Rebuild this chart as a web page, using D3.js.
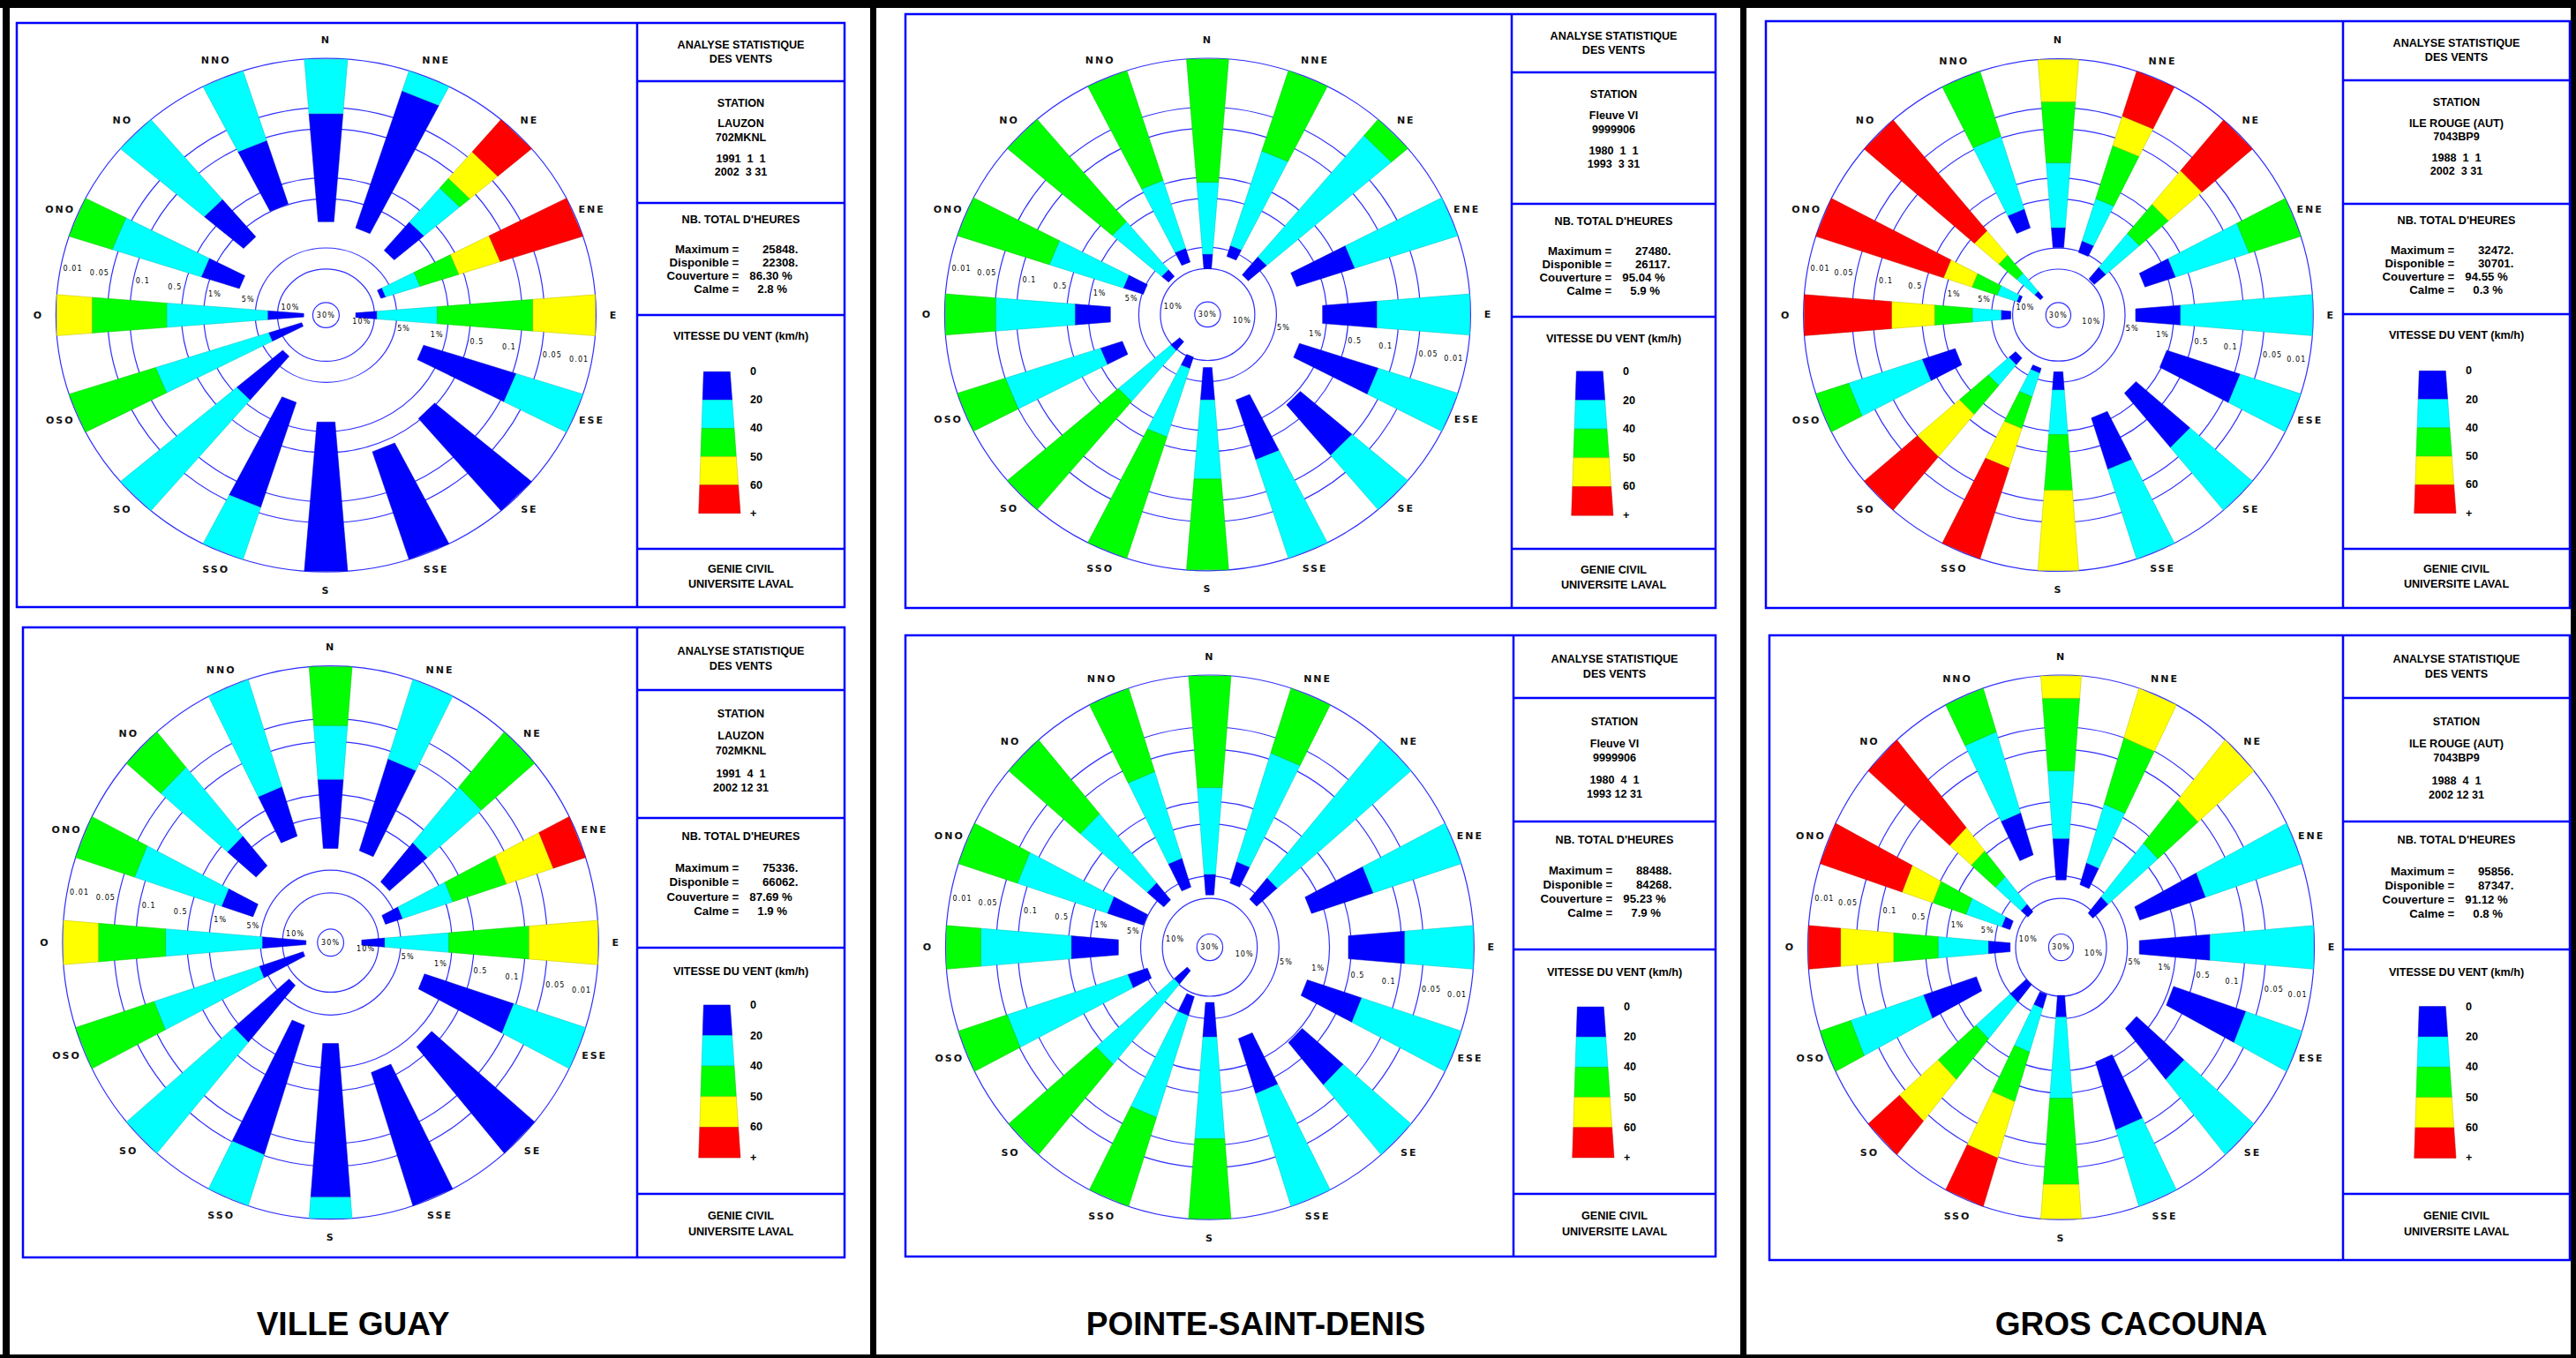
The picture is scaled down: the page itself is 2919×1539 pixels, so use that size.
<!DOCTYPE html>
<html>
<head>
<meta charset="utf-8">
<script src="https://cdn.jsdelivr.net/npm/d3@7"></script>
<style>
  html, body { margin: 0; padding: 0; background: #fff; }
  svg { display: block; }
</style>
</head>
<body>
<svg id="chart" width="2919" height="1539"></svg>
<script>
// ---------------------------------------------------------------
// Wind roses: cumulative frequency (% of hours) of wind speed
// exceeding 0, 20, 40, 50 and 60 km/h, for 16 compass sectors.
// Each sector lists the exceedance values that are present; the
// last class runs out to the 0.01 % ring.
// ---------------------------------------------------------------
const directions = ["N","NNE","NE","ENE","E","ESE","SE","SSE","S","SSO","SO","OSO","O","ONO","NO","NNO"];
const ringValues = [30, 10, 5, 1, 0.5, 0.1, 0.05, 0.01];
const ringLabels = ["30%", "10%", "5%", "1%", "0.5", "0.1", "0.05", "0.01"];
const speedColors = ["#0000ff", "#00ffff", "#00ff00", "#ffff00", "#ff0000"];
const speedLabels = ["0", "20", "40", "50", "60", "+"];

const lauzonJanMar = [
  [2.1, 0.06], [2.24, 0.02], [2.77, 0.82, 0.19, 0.125, 0.04], [7.5, 6.4, 2.07, 0.58, 0.15],
  [17.9, 9.2, 1.40, 0.07], [1.85, 0.089], [0.53], [0.41],
  [1.35], [2.24, 0.06], [7.7, 1.17], [20.4, 6.9, 0.17],
  [22.6, 7.3, 0.31, 0.03], [2.65, 0.76, 0.041], [1.55, 0.31], [0.98, 0.11]
];
const fleuveJanMar = [
  [10.0, 6.2, 0.58], [6.1, 4.2, 0.16], [8.2, 3.77, 0.02], [2.27, 0.32],
  [1.13, 0.196], [2.06, 0.145], [0.92, 0.104], [2.37, 0.30],
  [7.9, 2.71, 0.20], [10.4, 7.0, 0.66], [14.0, 9.6, 1.06], [2.57, 1.23, 0.05],
  [2.0, 0.64, 0.05], [5.2, 2.66, 0.22], [8.8, 6.55, 0.82], [7.4, 4.6, 0.44]
];
const ileRougeJanMar = [
  [4.9, 2.54, 0.30, 0.04], [5.2, 3.5, 0.81, 0.13, 0.047], [9.5, 5.74, 1.34, 0.38, 0.089], [2.24, 0.77, 0.06],
  [3.5, 0.79], [1.05, 0.082], [1.56, 0.149], [1.30, 0.22],
  [7.0, 3.85, 0.88, 0.14], [7.2, 6.1, 2.7, 0.9, 0.23], [7.1, 5.3, 2.17, 0.62, 0.10], [1.26, 0.40, 0.031],
  [9.4, 6.8, 2.62, 0.75, 0.18], [11.9, 10.7, 5.4, 2.26, 0.84], [20.9, 16.2, 7.4, 3.4, 1.19], [2.23, 1.16, 0.094]
];
const lauzonAprDec = [
  [2.56, 0.31, 0.06], [2.4, 0.127], [4.0, 0.84, 0.09], [7.4, 4.2, 0.80, 0.136, 0.029],
  [17.0, 8.2, 1.09, 0.087], [2.04, 0.107], [0.70], [0.71],
  [2.08, 0.019], [3.2, 0.051], [8.2, 0.84], [18.3, 4.3, 0.133],
  [20.9, 5.25, 0.25, 0.03], [3.5, 1.24, 0.07], [2.1, 0.64, 0.041], [1.5, 0.31]
];
const fleuveAprDec = [
  [8.9, 4.7, 0.32], [5.6, 2.8, 0.082], [6.4, 2.7], [1.5, 0.19],
  [0.54, 0.089], [1.73, 0.28], [0.95, 0.17], [2.33, 0.39],
  [8.2, 2.8, 0.12], [9.1, 4.9, 0.18], [17.6, 10.1, 0.39], [5.6, 2.9, 0.051],
  [2.44, 0.54, 0.03], [4.9, 1.46, 0.072], [6.6, 3.3, 0.20], [6.4, 2.5, 0.15]
];
const ileRougeAprDec = [
  [5.6, 1.55, 0.19, 0.02], [5.9, 2.9, 0.43, 0.05], [11.3, 5.8, 0.66, 0.114], [2.9, 0.29],
  [3.33, 0.315], [0.89, 0.071], [1.68, 0.21], [1.09, 0.12],
  [10.2, 5.2, 0.42, 0.029], [9.7, 6.2, 1.5, 0.30, 0.048], [9.9, 4.9, 1.10, 0.21, 0.039], [2.35, 0.37, 0.029],
  [8.3, 4.0, 0.75, 0.17, 0.029], [7.6, 5.7, 1.63, 0.51, 0.175], [10.7, 7.85, 2.57, 0.90, 0.35], [2.24, 0.57, 0.041]
];

// Station information, one entry per panel (top row Jan-Mar, bottom row Apr-Dec)
const stationNames = ["LAUZON", "Fleuve VI", "ILE ROUGE (AUT)", "LAUZON", "Fleuve VI", "ILE ROUGE (AUT)"];
const stationCodes = ["702MKNL", "9999906", "7043BP9", "702MKNL", "9999906", "7043BP9"];
const periodStart = ["1991  1  1", "1980  1  1", "1988  1  1", "1991  4  1", "1980  4  1", "1988  4  1"];
const periodEnd   = ["2002  3 31", "1993  3 31", "2002  3 31", "2002 12 31", "1993 12 31", "2002 12 31"];
const maxHours    = [25848, 27480, 32472, 75336, 88488, 95856];
const availHours  = [22308, 26117, 30701, 66062, 84268, 87347];
const coverage    = [86.30, 95.04, 94.55, 87.69, 95.23, 91.12];
const calmPct     = [2.8, 5.9, 0.3, 1.9, 7.9, 0.8];
const roseData    = [lauzonJanMar, fleuveJanMar, ileRougeJanMar, lauzonAprDec, fleuveAprDec, ileRougeAprDec];
const siteTitles  = ["VILLE GUAY", "POINTE-SAINT-DENIS", "GROS CACOUNA"];

// ---------------------------------------------------------------
// Page layout
// ---------------------------------------------------------------
const panelLayout = [
  { x0: 19,   y0: 26,  x1: 957,  y1: 688,  div: 722,  lines: [92, 230, 357, 622],   cx: 369.4,  cy: 357.2,  rx: 306,   ry: 291 },
  { x0: 1026, y0: 16,  x1: 1944, y1: 689,  div: 1713, lines: [82, 231, 359, 622],   cx: 1368.4, cy: 356.4,  rx: 298,   ry: 290.4 },
  { x0: 2001, y0: 24,  x1: 2912, y1: 689,  div: 2655, lines: [91, 231, 356, 622],   cx: 2332.4, cy: 357.1,  rx: 288.8, ry: 290.4 },
  { x0: 26,   y0: 711, x1: 957,  y1: 1425, div: 722,  lines: [782, 927, 1074, 1353], cx: 374.6,  cy: 1068.2, rx: 303.7, ry: 313.5 },
  { x0: 1026, y0: 720, x1: 1944, y1: 1424, div: 1715, lines: [791, 931, 1076, 1353], cx: 1370.9, cy: 1073.6, rx: 299.4, ry: 308.6 },
  { x0: 2005, y0: 720, x1: 2912, y1: 1428, div: 2655, lines: [791, 931, 1076, 1353], cx: 2335.5, cy: 1073.6, rx: 287,   ry: 308.6 }
];
const titleCenters = [400, 1423, 2415];

const BLUE = "#0000ff";
const SANS = "'Liberation Sans', Arial, sans-serif";
const WIDE = "'DejaVu Sans', Verdana, sans-serif";

const svg = d3.select("#chart");
svg.append("rect").attr("width", 2919).attr("height", 1539).attr("fill", "#fff");

// black page border and column separators
const borderBars = [
  [0, 0, 2919, 9], [3, 0, 8, 1539], [2913, 0, 6, 1539], [0, 1535, 2919, 4],
  [986, 0, 7, 1539], [1972, 0, 7, 1539]
];
svg.append("g").selectAll("rect").data(borderBars).join("rect")
  .attr("x", d => d[0]).attr("y", d => d[1]).attr("width", d => d[2]).attr("height", d => d[3])
  .attr("fill", "#000");

// site titles
svg.append("g").selectAll("text").data(siteTitles).join("text")
  .attr("x", (d, i) => titleCenters[i]).attr("y", 1513)
  .attr("text-anchor", "middle")
  .style("font-family", SANS).style("font-weight", "bold").style("font-size", "37px")
  .attr("fill", "#000")
  .text(d => d);

function addText(g, x, y, str, opts = {}) {
  return g.append("text")
    .attr("x", x).attr("y", y)
    .attr("text-anchor", opts.anchor || "middle")
    .attr("dominant-baseline", opts.baseline || "auto")
    .style("font-family", opts.family || SANS)
    .style("font-weight", opts.weight || "bold")
    .style("font-size", (opts.size || 12.6) + "px")
    .style("letter-spacing", (opts.spacing || 0) + "px")
    .style("white-space", "pre")
    .attr("fill", opts.fill || "#000")
    .text(str);
}

function drawPanel(idx) {
  const L = panelLayout[idx];
  const bars = roseData[idx];
  const g = svg.append("g").attr("class", "panel");

  // ---------------- rose ----------------
  const k = L.ry / L.rx;
  const r = d3.scaleLog().domain([30, 0.01]).range([0.049 * L.rx, L.rx]);
  const rose = g.append("g").attr("transform", `translate(${L.cx},${L.cy}) scale(1,${k})`);

  rose.append("g").selectAll("circle").data(ringValues).join("circle")
    .attr("r", d => r(d))
    .attr("fill", "none")
    .attr("stroke", "#2f2fff")
    .attr("stroke-width", 1.2)
    .attr("vector-effect", "non-scaling-stroke");

  const half = 4.6 * Math.PI / 180;
  const segs = [];
  bars.forEach((b, i) => {
    const a = i * Math.PI / 8;
    const bounds = b.concat([0.01]);
    for (let c = 0; c < b.length; c++) {
      segs.push({ a, p1: bounds[c], p2: bounds[c + 1], c });
    }
  });
  const polar = (rr, t) => [rr * Math.sin(t), -rr * Math.cos(t)];
  rose.append("g").selectAll("path").data(segs).join("path")
    .attr("d", s => {
      const r1 = r(s.p1), r2 = r(s.p2);
      return d3.line()([polar(r1, s.a - half), polar(r2, s.a - half), polar(r2, s.a + half), polar(r1, s.a + half)]) + "Z";
    })
    .attr("fill", s => speedColors[s.c])
    .attr("stroke", s => d3.color(speedColors[s.c]).darker(0.9))
    .attr("stroke-opacity", 0.6)
    .attr("stroke-width", 0.8)
    .attr("vector-effect", "non-scaling-stroke");

  // direction labels around the rim
  directions.forEach((d, i) => {
    const a = i * Math.PI / 8;
    addText(g, L.cx + (L.rx + 20) * Math.sin(a), L.cy - (L.ry + 21) * Math.cos(a), d,
      { family: WIDE, size: 11, spacing: 2, baseline: "central", fill: "#111" });
  });

  // ring labels along two rays, 10.5 degrees off the E-O axis
  const ang = 10.5 * Math.PI / 180;
  const ringFont = { family: WIDE, weight: "normal", size: 8, spacing: 1.1, baseline: "central", fill: "#000" };
  addText(g, L.cx, L.cy, ringLabels[0], ringFont);
  ringValues.forEach((v, i) => {
    if (i === 0) return;
    const rr = r(v) * Math.cos(ang);
    const inside = (i % 2 === 1);
    // east side
    const te = addText(g, L.cx + rr + (inside ? -3 : 2), 0, ringLabels[i],
      Object.assign({}, ringFont, { anchor: inside ? "end" : "start" }));
    const we = te.node().getComputedTextLength();
    const ce = rr + (inside ? -3 - we / 2 : 2 + we / 2);
    te.attr("y", L.cy + ce * Math.tan(ang) * k);
    // west side
    const tw = addText(g, L.cx - rr + (inside ? 3 : -2), 0, ringLabels[i],
      Object.assign({}, ringFont, { anchor: inside ? "start" : "end" }));
    const ww = tw.node().getComputedTextLength();
    const cw = rr + (inside ? -3 - ww / 2 : 2 + ww / 2);
    tw.attr("y", L.cy - cw * Math.tan(ang) * k - 2);
  });

  // ---------------- frame and side boxes ----------------
  g.append("rect")
    .attr("x", L.x0).attr("y", L.y0).attr("width", L.x1 - L.x0).attr("height", L.y1 - L.y0)
    .attr("fill", "none").attr("stroke", BLUE).attr("stroke-width", 2.5);
  g.append("line").attr("x1", L.div).attr("x2", L.div).attr("y1", L.y0).attr("y2", L.y1)
    .attr("stroke", BLUE).attr("stroke-width", 2.5);
  g.append("g").selectAll("line").data(L.lines).join("line")
    .attr("x1", L.div).attr("x2", L.x1).attr("y1", d => d).attr("y2", d => d)
    .attr("stroke", BLUE).attr("stroke-width", 2.5);

  const sc = (L.div + L.x1) / 2;
  const f = (L.y1 - L.y0) / 662;
  const [l1, l2, l3, l4] = L.lines;

  addText(g, sc, L.y0 + 29 * f, "ANALYSE STATISTIQUE");
  addText(g, sc, L.y0 + 44.7 * f, "DES VENTS");

  addText(g, sc, l1 + 29 * f, "STATION");
  addText(g, sc, l1 + 52.3 * f, stationNames[idx]);
  addText(g, sc, l1 + 67.6 * f, stationCodes[idx]);
  addText(g, sc, l1 + 91.6 * f, periodStart[idx]);
  addText(g, sc, l1 + 106.6 * f, periodEnd[idx]);

  addText(g, sc, l2 + 23.3 * f, "NB. TOTAL D'HEURES");
  const rowLabels = ["Maximum =", "Disponible =", "Couverture =", "Calme ="];
  const rowValues = [maxHours[idx] + ".", availHours[idx] + ".", coverage[idx].toFixed(2) + " %", calmPct[idx].toFixed(1) + " %"];
  const valueOffsets = [24.5, 24.5, 9.8, 18.8];
  rowLabels.forEach((lab, j) => {
    const y = l2 + (56.7 + 15 * j) * f;
    addText(g, sc - 2.2, y, lab, { anchor: "end", size: 13.2 });
    addText(g, sc + valueOffsets[j], y, rowValues[j], { anchor: "start", size: 13.2 });
  });

  addText(g, sc, l3 + 28.3 * f, "VITESSE DU VENT (km/h)");
  // tapered colour bar legend
  const barH = 160.6 * f;
  const barTop = (l3 + l4) / 2 + 12 - barH / 2;
  const leftAt = t => sc - 42.2 - 5.6 * t;
  const rightAt = t => sc - 12.2 + 11.7 * t;
  speedColors.forEach((col, j) => {
    const t0 = j / 5, t1 = (j + 1) / 5;
    const y0 = barTop + barH * t0, y1 = barTop + barH * t1;
    g.append("path")
      .attr("d", d3.line()([[leftAt(t0), y0], [rightAt(t0), y0], [rightAt(t1), y1], [leftAt(t1), y1]]) + "Z")
      .attr("fill", col)
      .attr("stroke", d3.color(col).darker(0.9)).attr("stroke-opacity", 0.6).attr("stroke-width", 0.8);
  });
  speedLabels.forEach((lab, j) => {
    addText(g, sc + 10.5, barTop + barH * j / 5, lab, { anchor: "start", baseline: "central", size: 12.6 });
  });

  addText(g, sc, l4 + 27.3 * f, "GENIE CIVIL");
  addText(g, sc, l4 + 44 * f, "UNIVERSITE LAVAL");
}

panelLayout.forEach((_, i) => drawPanel(i));
</script>
</body>
</html>
